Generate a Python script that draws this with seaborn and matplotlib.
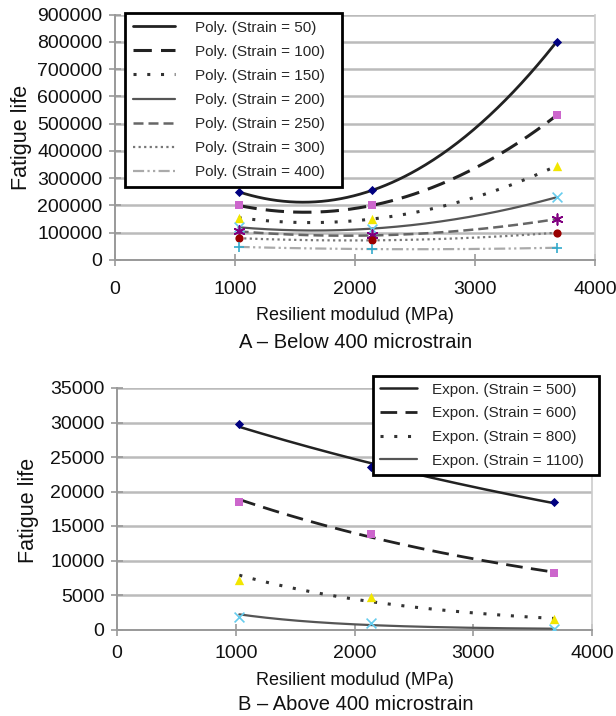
import numpy as np
import pandas as pd
import matplotlib
matplotlib.use("Agg")
import matplotlib.pyplot as plt
import seaborn as sns

sns.set_theme(style="white")
plt.rcParams['font.family'] = ['Liberation Sans', 'DejaVu Sans']

# ---------------- data ----------------
modulus = [1030, 2140, 3680]

strains_a = [50, 100, 150, 200, 250, 300, 400]
life_a = {
    50:  [250000, 255000, 800000],
    100: [200000, 200000, 530000],
    150: [155000, 150000, 345000],
    200: [120000, 115000, 230000],
    250: [105000, 90000, 150000],
    300: [80000, 72000, 100000],
    400: [48000, 40000, 45000],
}

strains_b = [500, 600, 800, 1100]
life_b = {
    500:  [29800, 23500, 18500],
    600:  [18500, 13800, 8200],
    800:  [7200, 4700, 1500],
    1100: [1800, 900, 100],
}

xticks = [0, 1000, 2000, 3000, 4000]
yticks_a = [0, 100000, 200000, 300000, 400000, 500000, 600000, 700000, 800000, 900000]
yticks_b = [0, 5000, 10000, 15000, 20000, 25000, 30000, 35000]

# ---------------- styles ----------------
marker_style = {
    50:  dict(marker='D', color='#000080', s=22),
    100: dict(marker='s', color='#CC66CC', s=40),
    150: dict(marker='^', color='#F2E600', s=45),
    200: dict(marker='x', color='#66CCEE', s=50),
    250: dict(marker=(6, 2, 0), color='#800080', s=60),
    300: dict(marker='o', color='#990000', s=35),
    400: dict(marker='+', color='#33AACC', s=50),
    500: dict(marker='D', color='#000080', s=22),
    600: dict(marker='s', color='#CC66CC', s=40),
    800: dict(marker='^', color='#F2E600', s=45),
    1100: dict(marker='x', color='#66CCEE', s=50),
}
line_style = {
    50:  dict(color='#222222', lw=2.0, ls='-'),
    100: dict(color='#222222', lw=2.2, ls=(0, (6, 3))),
    150: dict(color='#333333', lw=2.2, ls=(0, (1, 3.5))),
    200: dict(color='#555555', lw=1.6, ls='-'),
    250: dict(color='#666666', lw=1.8, ls=(0, (4, 2))),
    300: dict(color='#777777', lw=1.6, ls=(0, (1, 1.5))),
    400: dict(color='#AAAAAA', lw=1.6, ls=(0, (5, 1.5, 1, 1.5, 1, 1.5))),
    500: dict(color='#222222', lw=1.8, ls='-'),
    600: dict(color='#222222', lw=2.0, ls=(0, (6, 3))),
    800: dict(color='#333333', lw=2.2, ls=(0, (1, 3.5))),
    1100: dict(color='#555555', lw=1.6, ls='-'),
}

fig = plt.figure(figsize=(6.16, 7.16), dpi=100)
W, H = 616, 716

def axes_px(l, r, t, b):
    return fig.add_axes([l / W, 1 - b / H, (r - l) / W, (b - t) / H])

ax1 = axes_px(115, 595, 14.5, 260)
ax2 = axes_px(117, 592, 388, 629.5)

xs = np.linspace(min(modulus), max(modulus), 200)

def style_axes(ax, yticks, xpad, ypad):
    ax.set_xlim(0, 4000)
    ax.set_ylim(yticks[0], yticks[-1])
    ax.set_xticks(xticks)
    ax.set_yticks(yticks)
    ax.yaxis.grid(True, color='#BBBBBB', lw=1.8)
    ax.set_axisbelow(True)
    ax.spines['top'].set_visible(False)
    ax.spines['right'].set_color('#CCCCCC')
    ax.spines['right'].set_linewidth(1.2)
    for s in ['left', 'bottom']:
        ax.spines[s].set_color('#999999')
        ax.spines[s].set_linewidth(1.4)
    ax.tick_params(axis='both', labelsize=14, colors='#111111', length=8,
                   color='#999999', direction='inout', bottom=True, left=True, width=1.2)
    ax.tick_params(axis='x', pad=xpad)
    ax.tick_params(axis='y', pad=ypad)
    ax.set_ylabel('Fatigue life', fontsize=15.5, color='#111111')
    ax.set_xlabel('Resilient modulud (MPa)', fontsize=13, color='#111111')

# ----- panel A: polynomial trendlines -----
for st in strains_a:
    y = np.array(life_a[st], dtype=float)
    coef = np.polyfit(modulus, y, 2)
    df = pd.DataFrame({'x': xs, 'y': np.polyval(coef, xs)})
    ls = line_style[st]
    sns.lineplot(data=df, x='x', y='y', ax=ax1, color=ls['color'], lw=ls['lw'],
                 linestyle=ls['ls'], label=f'Poly. (Strain = {st})', zorder=3)
    ms = marker_style[st]
    sns.scatterplot(x=modulus, y=y, ax=ax1, marker=ms['marker'], color=ms['color'],
                    s=ms['s'], linewidth=1.2 if ms['marker'] in ['x', '+', (6, 2, 0)] else 0,
                    edgecolor=ms['color'], zorder=4, legend=False)
style_axes(ax1, yticks_a, xpad=11, ypad=5)
ax1.yaxis.set_label_coords(-0.172, 0.5)
ax1.xaxis.set_label_coords(0.5, -0.19)
leg1 = ax1.legend(loc='upper left', bbox_to_anchor=(0.0208, 1.006, 0.452, 0), mode='expand',
                  fontsize=11, handlelength=2.8, handletextpad=1.3, labelspacing=0.66,
                  frameon=True, fancybox=False, borderpad=0.5, borderaxespad=0)
leg1.get_frame().set_edgecolor('black')
leg1.get_frame().set_linewidth(2)
leg1.get_frame().set_facecolor('white')
leg1.get_frame().set_alpha(1)
fig.text(356 / W, 1 - 342 / H, 'A \u2013 Below 400 microstrain', ha='center', va='center',
         fontsize=14.5, color='#111111')

# ----- panel B: exponential trendlines -----
for st in strains_b:
    y = np.array(life_b[st], dtype=float)
    b, a = np.polyfit(modulus, np.log(y), 1)
    df = pd.DataFrame({'x': xs, 'y': np.exp(a + b * xs)})
    ls = line_style[st]
    sns.lineplot(data=df, x='x', y='y', ax=ax2, color=ls['color'], lw=ls['lw'],
                 linestyle=ls['ls'], label=f'Expon. (Strain = {st})', zorder=3)
    ms = marker_style[st]
    sns.scatterplot(x=modulus, y=y, ax=ax2, marker=ms['marker'], color=ms['color'],
                    s=ms['s'], linewidth=1.2 if ms['marker'] in ['x', '+'] else 0,
                    edgecolor=ms['color'], zorder=4, legend=False)
style_axes(ax2, yticks_b, xpad=7, ypad=5)
ax2.yaxis.set_label_coords(-0.165, 0.495)
ax2.xaxis.set_label_coords(0.5, -0.175)
leg2 = ax2.legend(loc='upper left', bbox_to_anchor=(0.539, 1.05, 0.475, 0), mode='expand',
                  fontsize=11, handlelength=2.4, handletextpad=1.0, labelspacing=0.63,
                  frameon=True, fancybox=False, borderpad=0.45, borderaxespad=0)
leg2.get_frame().set_edgecolor('black')
leg2.get_frame().set_linewidth(2)
leg2.get_frame().set_facecolor('white')
leg2.get_frame().set_alpha(1)
leg2.set_zorder(10)
fig.text(356 / W, 1 - 705 / H, 'B \u2013 Above 400 microstrain', ha='center', va='center',
         fontsize=14.5, color='#111111')

fig.savefig('out.png', dpi=100, facecolor='white')
